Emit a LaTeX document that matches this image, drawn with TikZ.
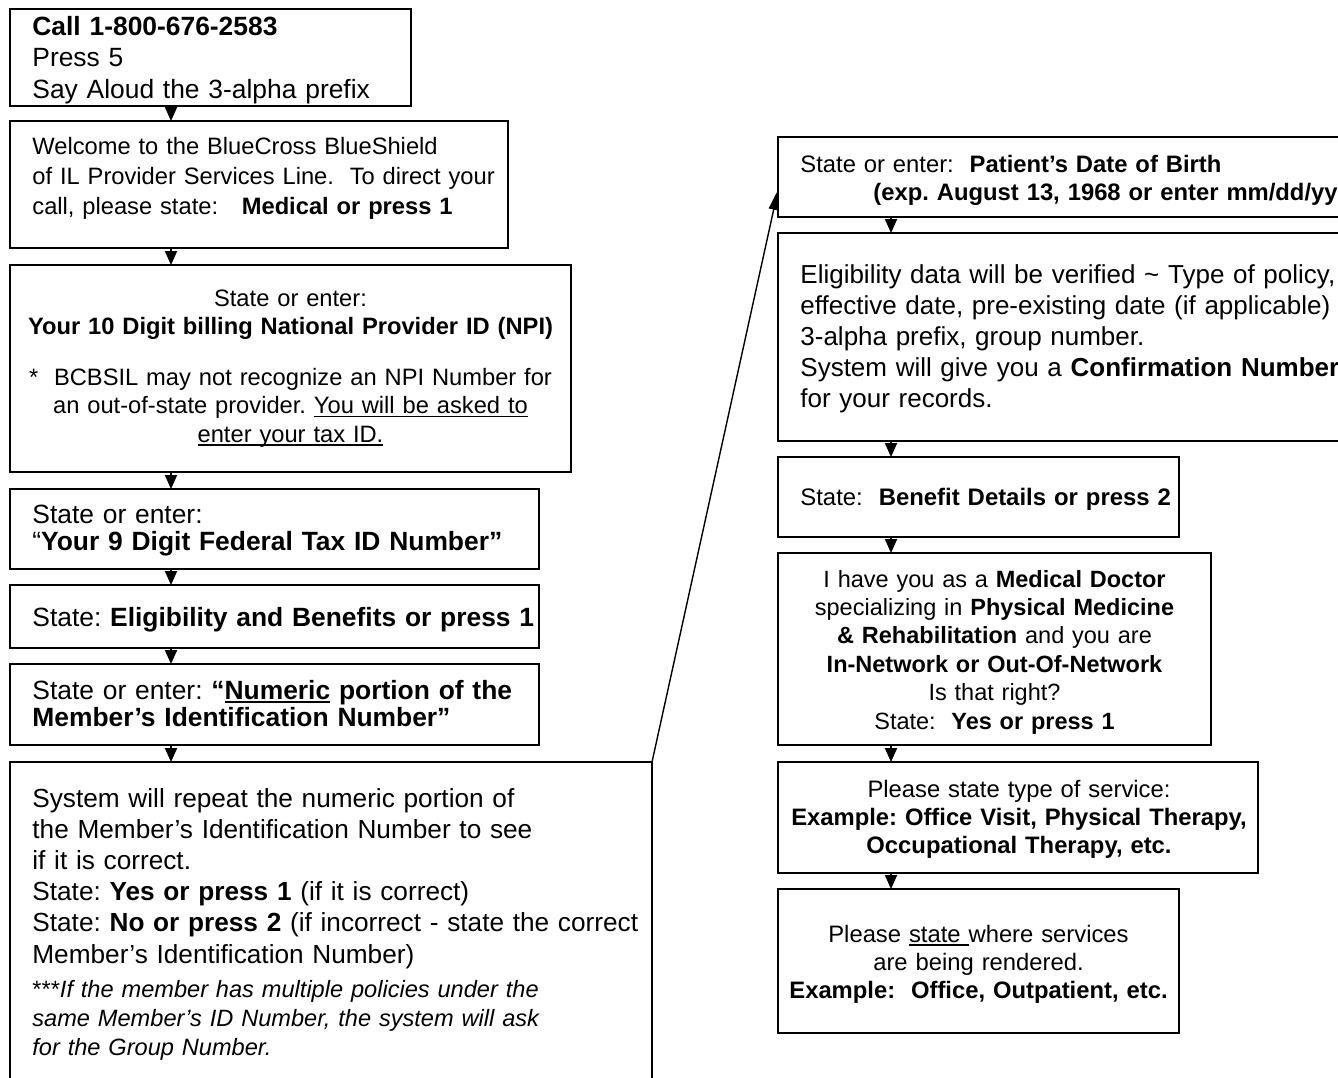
\documentclass[tikz,border=0pt]{standalone}
\usepackage{fontspec}
\setmainfont{Liberation Sans}
\usetikzlibrary{arrows.meta}
\frenchspacing
\newcommand\myul[1]{\leavevmode\setbox0\hbox{#1}\rlap{\rule[-1.8pt]{\wd0}{0.75pt}}\box0\relax}
\newcommand\setfz[2]{\fontsize{#1}{#2}\selectfont\frenchspacing}
\begin{document}
\begin{tikzpicture}[x=0.5pt,y=-0.5pt,
  box/.style={draw, line width=1pt, anchor=north west, inner sep=0pt, outer sep=0pt},
  tl/.style={inner sep=0pt, anchor=base west, align=left, text width=400pt},
  tc/.style={inner sep=0pt, anchor=base, align=center, text width=300pt},
  tri/.style={-{Triangle[length=7pt,width=6pt]}, line width=1pt},
  link/.style={-{Triangle[length=10pt,width=5pt]}, line width=0.7pt}]
\useasboundingbox (0,0) rectangle (1338,1077);
\clip (0,0) rectangle (1338,1077);
\coordinate (lx) at (171,0);
\coordinate (rx) at (891,0);
% boxes, left column
\node[box, minimum width=200.5pt, minimum height=48.5pt] (b1) at (10,9) {};
\node[box, minimum width=249pt, minimum height=63.5pt] (b2) at (10,121) {};
\node[box, minimum width=280.5pt, minimum height=103.5pt] (b3) at (10,265) {};
\node[box, minimum width=264.5pt, minimum height=40pt] (b4) at (10,489) {};
\node[box, minimum width=264.5pt, minimum height=31.5pt] (b5) at (10,585) {};
\node[box, minimum width=264.5pt, minimum height=40.5pt] (b6) at (10,664) {};
\node[box, minimum width=321pt, minimum height=169pt] (b7) at (10,762) {};
% boxes, right column
\node[box, minimum width=291pt, minimum height=40pt] (b8) at (778,137) {};
\node[box, minimum width=291pt, minimum height=104pt] (b9) at (778,233) {};
\node[box, minimum width=200.5pt, minimum height=40pt] (b10) at (778,457) {};
\node[box, minimum width=216.5pt, minimum height=96pt] (b11) at (778,553) {};
\node[box, minimum width=240pt, minimum height=55.5pt] (b12) at (778,762) {};
\node[box, minimum width=200.5pt, minimum height=72pt] (b13) at (778,889) {};
% texts
\node[tl, font=\setfz{13.2}{15.8}] (t1) at (32,35)
  {\textbf{Call 1-800-676-2583}\\ Press 5\\ Say Aloud the 3-alpha prefix};
\node[tl, font=\setfz{11.85}{15}] (t2) at (32,154)
  {Welcome to the BlueCross BlueShield\\ of IL Provider Services Line.\ \ To direct your\\ call, please state:\ \ \ \textbf{Medical or press 1}};
\node[tc, font=\setfz{11.85}{14.25}] (t3) at (290.5,306)
  {State or enter:\\ \textbf{Your 10 Digit billing National Provider ID (NPI)}\\[11pt] *\ \ BCBSIL may not recognize an NPI Number for\\ an out-of-state provider. \myul{You will be asked to}\\ \myul{enter your tax ID.}};
\node[tl, font=\setfz{13.2}{13.5}] (t4) at (32,523)
  {State or enter:\\ “\textbf{Your 9 Digit Federal Tax ID Number”}};
\node[tl, font=\setfz{13.2}{15}] (t5) at (32,626)
  {State: \textbf{Eligibility and Benefits or press 1}};
\node[tl, font=\setfz{13.2}{13.6}] (t6) at (32,699)
  {State or enter: \textbf{“\myul{Numeric} portion of the}\\ \textbf{Member’s Identification Number”}};
\node[tl, font=\setfz{13.1}{15.6}] (t7) at (32,807)
  {System will repeat the numeric portion of\\ the Member’s Identification Number to see\\ if it is correct.\\ State: \textbf{Yes or press 1} (if it is correct)\\ State: \textbf{No or press 2} (if incorrect - state the correct\\ Member’s Identification Number)};
\node[tl, font=\setfz{11.8}{14.5}] (t7b) at (32,997)
  {***\textit{If the member has multiple policies under the}\\ \textit{same Member’s ID Number, the system will ask}\\ \textit{for the Group Number.}};
\node[tl, font=\setfz{11.9}{14}] (t8) at (800,172)
  {State or enter:\ \ \textbf{Patient’s Date of Birth}\\ \hspace*{36.5pt}\textbf{(exp. August 13, 1968 or enter mm/dd/yy}};
\node[tl, font=\setfz{13.0}{15.6}] (t9) at (800,283)
  {Eligibility data will be verified \textasciitilde{} Type of policy,\\ effective date, pre-existing date (if applicable)\\ 3-alpha prefix, group number.\\ System will give you a \textbf{Confirmation Number}\\ for your records.};
\node[tl, font=\setfz{11.95}{14}] (t10) at (800,505)
  {State:\ \ \textbf{Benefit Details or press 2}};
\node[tc, font=\setfz{11.75}{14.2}] (t11) at (994.5,587)
  {I have you as a \textbf{Medical Doctor}\\ specializing in \textbf{Physical Medicine}\\ \textbf{\& Rehabilitation} and you are\\ \textbf{In-Network or Out-Of-Network}\\ Is that right?\\ State:\ \ \textbf{Yes or press 1}};
\node[tc, font=\setfz{11.9}{14}] (t12) at (1019,797)
  {Please state type of service:\\ \textbf{Example: Office Visit, Physical Therapy,}\\ \textbf{Occupational Therapy, etc.}};
\node[tc, font=\setfz{11.9}{14}] (t13) at (978.5,942)
  {Please \myul{state\ }where services\\ are being rendered.\\ \textbf{Example:\ \ Office, Outpatient, etc.}};
% connectors
\draw[tri] (b1.south -| lx) -- (b2.north -| lx);
\draw[tri] (b2.south -| lx) -- (b3.north -| lx);
\draw[tri] (b3.south -| lx) -- (b4.north -| lx);
\draw[tri] (b4.south -| lx) -- (b5.north -| lx);
\draw[tri] (b5.south -| lx) -- (b6.north -| lx);
\draw[tri] (b6.south -| lx) -- (b7.north -| lx);
\draw[link] (b7.north east) -- ([yshift=-6.5pt]b8.west);
\draw[tri] (b8.south -| rx) -- (b9.north -| rx);
\draw[tri] (b9.south -| rx) -- (b10.north -| rx);
\draw[tri] (b10.south -| rx) -- (b11.north -| rx);
\draw[tri] (b11.south -| rx) -- (b12.north -| rx);
\draw[tri] (b12.south -| rx) -- (b13.north -| rx);
\end{tikzpicture}
\end{document}
